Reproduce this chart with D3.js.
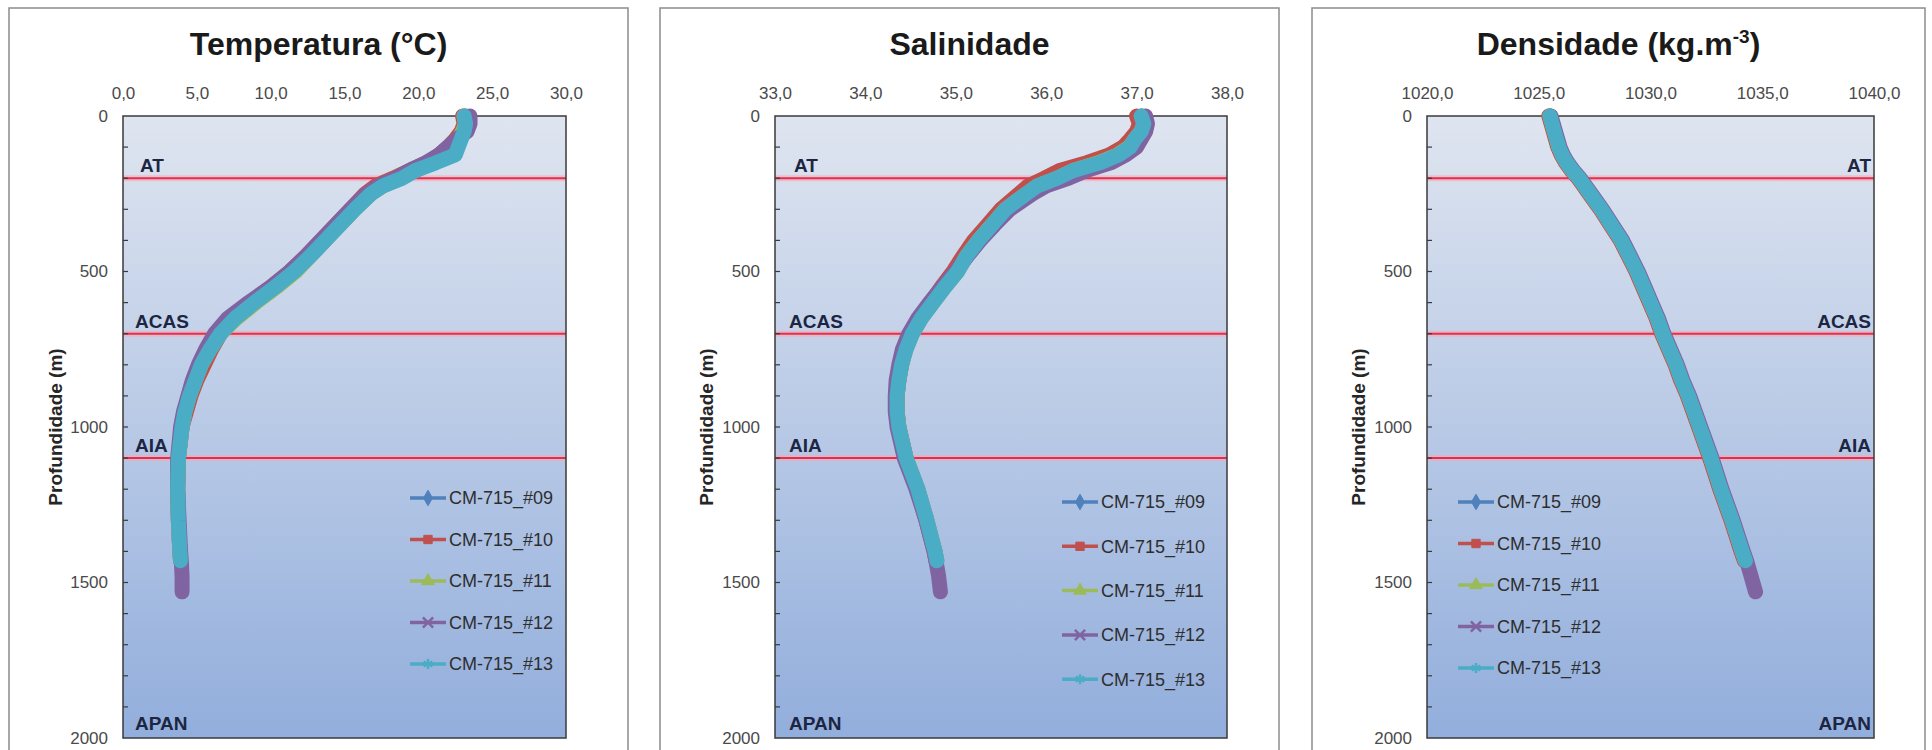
<!DOCTYPE html>
<html>
<head>
<meta charset="utf-8">
<script src="https://cdn.jsdelivr.net/npm/d3@7"></script>
<style>
  body { margin: 0; background: #fff; }
  svg { display: block; font-family: 'Liberation Sans', Arial, sans-serif; }
</style>
</head>
<body>
<div id="chart"></div>
<script>
const WIDTH = 1932;
const HEIGHT = 750;

const PLOT_TOP = 116;
const PLOT_BOTTOM = 738;

// depth levels (m) of every cast
const depths = [0, 25, 50, 75, 100, 125, 150, 175, 200, 225, 250, 300, 350, 400, 450, 500,
  550, 600, 650, 700, 750, 800, 850, 900, 950, 1000, 1100, 1200, 1300, 1400, 1430, 1480, 1530];

const stations = ['CM-715_#09', 'CM-715_#10', 'CM-715_#11', 'CM-715_#12', 'CM-715_#13'];
const stationColors = ['#4f81bd', '#c0504d', '#9bbb59', '#8064a2', '#4bacc6'];

// temperatura (°C)
const temp09 = [23.2, 23.2, 23.0, 22.7, 22.4, 21.9, 20.9, 19.8, 18.8, 17.5, 16.7, 15.6, 14.6, 13.6, 12.6, 11.5,
  10.2, 8.8, 7.5, 6.5, 5.8, 5.2, 4.8, 4.5, 4.2, 4.0, 3.75, 3.7, 3.75, 3.85, 3.9, null, null];
const temp10 = [23.0, 23.1, 22.9, 22.5, 22.0, 21.4, 20.6, 19.4, 18.3, 17.1, 16.4, 15.4, 14.4, 13.4, 12.4, 11.3,
  10.0, 8.6, 7.4, 6.6, 6.0, 5.5, 5.0, 4.6, 4.3, 4.0, 3.75, 3.7, 3.75, 3.85, 3.9, null, null];
const temp11 = [23.1, 23.2, 23.0, 22.7, 22.3, 21.8, 20.9, 19.8, 18.8, 17.6, 16.8, 15.7, 14.7, 13.7, 12.7, 11.7,
  10.4, 9.0, 7.7, 6.6, 5.9, 5.3, 4.9, 4.5, 4.2, 4.0, 3.75, 3.7, 3.75, 3.85, 3.9, null, null];
const temp12 = [23.5, 23.5, 23.3, 22.6, 22.0, 21.4, 20.5, 19.4, 18.5, 17.3, 16.5, 15.4, 14.4, 13.4, 12.4, 11.3,
  10.0, 8.5, 7.1, 6.2, 5.6, 5.1, 4.7, 4.4, 4.1, 3.9, 3.7, 3.7, 3.8, 3.9, 3.95, 4.0, 4.0];
const temp13 = [23.1, 23.2, 23.1, 22.9, 22.7, 22.5, 21.2, 19.8, 18.9, 17.6, 16.8, 15.7, 14.7, 13.7, 12.7, 11.6,
  10.3, 8.9, 7.6, 6.6, 5.9, 5.3, 4.9, 4.5, 4.2, 4.0, 3.75, 3.7, 3.75, 3.85, 3.9, null, null];

// salinidade
const sal09 = [37.05, 37.07, 37.03, 36.97, 36.9, 36.76, 36.55, 36.28, 36.1, 35.88, 35.76, 35.54, 35.39, 35.24, 35.11, 35.0,
  34.87, 34.74, 34.61, 34.51, 34.44, 34.4, 34.37, 34.35, 34.35, 34.37, 34.45, 34.58, 34.68, 34.77, 34.79, null, null];
const sal10 = [37.0, 37.03, 37.0, 36.93, 36.85, 36.7, 36.45, 36.15, 35.98, 35.8, 35.7, 35.5, 35.35, 35.2, 35.08, 34.97,
  34.84, 34.72, 34.6, 34.5, 34.44, 34.4, 34.37, 34.35, 34.35, 34.37, 34.45, 34.57, 34.67, 34.76, 34.78, null, null];
const sal11 = [37.06, 37.08, 37.05, 36.98, 36.92, 36.79, 36.58, 36.3, 36.12, 35.9, 35.78, 35.55, 35.4, 35.25, 35.12, 35.02,
  34.88, 34.75, 34.62, 34.52, 34.45, 34.4, 34.37, 34.35, 34.35, 34.37, 34.45, 34.58, 34.68, 34.77, 34.79, null, null];
const sal12 = [37.1, 37.12, 37.1, 37.05, 37.0, 36.88, 36.72, 36.45, 36.25, 36.0, 35.85, 35.6, 35.43, 35.27, 35.13, 35.0,
  34.85, 34.71, 34.58, 34.48, 34.41, 34.37, 34.34, 34.33, 34.33, 34.35, 34.43, 34.56, 34.67, 34.76, 34.78, 34.81, 34.83];
const sal13 = [37.05, 37.08, 37.05, 36.98, 36.93, 36.8, 36.6, 36.3, 36.12, 35.9, 35.78, 35.55, 35.4, 35.25, 35.12, 35.02,
  34.88, 34.75, 34.62, 34.52, 34.45, 34.4, 34.37, 34.35, 34.35, 34.37, 34.45, 34.58, 34.68, 34.77, 34.79, null, null];

// densidade (kg.m-3)
const dens09 = [1025.5, 1025.6, 1025.7, 1025.8, 1025.9, 1026.05, 1026.25, 1026.5, 1026.8, 1027.05, 1027.3, 1027.8, 1028.25, 1028.7, 1029.05, 1029.4,
  1029.7, 1030.0, 1030.3, 1030.55, 1030.85, 1031.15, 1031.4, 1031.7, 1031.95, 1032.2, 1032.7, 1033.15, 1033.65, 1034.1, 1034.25, null, null];
const dens10 = [1025.45, 1025.55, 1025.65, 1025.75, 1025.85, 1026.0, 1026.2, 1026.45, 1026.75, 1027.0, 1027.25, 1027.75, 1028.2, 1028.65, 1029.0, 1029.35,
  1029.65, 1029.95, 1030.25, 1030.5, 1030.8, 1031.1, 1031.35, 1031.65, 1031.9, 1032.15, 1032.65, 1033.1, 1033.6, 1034.05, 1034.2, null, null];
const dens11 = [1025.5, 1025.6, 1025.7, 1025.8, 1025.9, 1026.05, 1026.25, 1026.5, 1026.8, 1027.05, 1027.3, 1027.8, 1028.25, 1028.7, 1029.05, 1029.4,
  1029.7, 1030.0, 1030.3, 1030.55, 1030.85, 1031.15, 1031.4, 1031.7, 1031.95, 1032.2, 1032.7, 1033.15, 1033.65, 1034.1, 1034.25, null, null];
const dens12 = [1025.55, 1025.65, 1025.75, 1025.85, 1025.95, 1026.1, 1026.3, 1026.55, 1026.85, 1027.1, 1027.35, 1027.85, 1028.3, 1028.75, 1029.1, 1029.45,
  1029.75, 1030.05, 1030.35, 1030.6, 1030.9, 1031.2, 1031.45, 1031.75, 1032.0, 1032.25, 1032.75, 1033.2, 1033.7, 1034.15, 1034.3, 1034.5, 1034.7];
const dens13 = [1025.5, 1025.6, 1025.7, 1025.8, 1025.9, 1026.05, 1026.25, 1026.5, 1026.8, 1027.05, 1027.3, 1027.8, 1028.25, 1028.7, 1029.05, 1029.4,
  1029.7, 1030.0, 1030.3, 1030.55, 1030.85, 1031.15, 1031.4, 1031.7, 1031.95, 1032.2, 1032.7, 1033.15, 1033.65, 1034.1, 1034.25, null, null];

// water masses and the depth of their lower boundary
const waterMasses = ['AT', 'ACAS', 'AIA', 'APAN'];
const waterMassDepths = [200, 700, 1100, 2000];

const depthTicks = [0, 500, 1000, 1500, 2000];
const tempTicks = [0, 5, 10, 15, 20, 25, 30];
const salTicks = [33, 34, 35, 36, 37, 38];
const densTicks = [1020, 1025, 1030, 1035, 1040];

const panels = [
  {
    title: [['Temperatura (°C)', false]], ticks: tempTicks,
    series: [temp09, temp10, temp11, temp12, temp13],
    box: [9, 628], plot: [123, 566], labelSide: 'left', labelInset: 12,
    legendX: 410, legendY: 498, legendStep: 41.5
  },
  {
    title: [['Salinidade', false]], ticks: salTicks,
    series: [sal09, sal10, sal11, sal12, sal13],
    box: [660, 1279], plot: [775, 1227], labelSide: 'left', labelInset: 14,
    legendX: 1062, legendY: 502, legendStep: 44.3
  },
  {
    title: [['Densidade (kg.m', false], ['-3', true], [')', false]], ticks: densTicks,
    series: [dens09, dens10, dens11, dens12, dens13],
    box: [1312, 1925], plot: [1427, 1874], labelSide: 'right', labelInset: 3,
    legendX: 1458, legendY: 502, legendStep: 41.5
  }
];

const markers = [
  d3.symbolDiamond, d3.symbolSquare, d3.symbolTriangle,
  d3.symbolTimes || d3.symbolCross, d3.symbolAsterisk || d3.symbolCross
];

const fmt = v => d3.format('.1f')(v).replace('.', ',');

const svg = d3.select('#chart').append('svg')
  .attr('width', WIDTH)
  .attr('height', HEIGHT);

const grad = svg.append('defs').append('linearGradient')
  .attr('id', 'plotFill')
  .attr('x1', 0).attr('y1', 0).attr('x2', 0).attr('y2', 1);
grad.append('stop').attr('offset', '0%').attr('stop-color', '#dfe5f0');
grad.append('stop').attr('offset', '100%').attr('stop-color', '#92aedc');

const yScale = d3.scaleLinear()
  .domain([0, 2000])
  .range([PLOT_TOP, PLOT_BOTTOM]);

const drawPanel = (p) => {
  const g = svg.append('g');
  const xScale = d3.scaleLinear()
    .domain(d3.extent(p.ticks))
    .range(p.plot);
  const [x0, x1] = p.plot;

  // outer frame of the chart
  g.append('rect')
    .attr('x', p.box[0]).attr('y', 8)
    .attr('width', p.box[1] - p.box[0]).attr('height', 800)
    .attr('fill', '#fff')
    .attr('stroke', '#8c8c8c')
    .attr('stroke-width', 1.5);

  // title
  const title = g.append('text')
    .attr('x', (p.box[0] + p.box[1]) / 2)
    .attr('y', 55)
    .attr('text-anchor', 'middle')
    .attr('font-size', 32)
    .attr('font-weight', 'bold')
    .attr('fill', '#1a1a1a');
  p.title.forEach(([t, sup]) => {
    const s = title.append('tspan').text(t);
    if (sup) s.attr('font-size', 19).attr('dy', -12);
    else if (t === ')') s.attr('dy', 12);
  });

  // plot area
  g.append('rect')
    .attr('x', x0).attr('y', PLOT_TOP)
    .attr('width', x1 - x0).attr('height', PLOT_BOTTOM - PLOT_TOP)
    .attr('fill', 'url(#plotFill)');

  // water mass boundaries
  const bounds = waterMassDepths.filter(d => d < 2000);
  g.selectAll('line.glow')
    .data(bounds)
    .enter()
    .append('line')
    .attr('x1', x0).attr('x2', x1)
    .attr('y1', d => yScale(d)).attr('y2', d => yScale(d))
    .attr('stroke', '#f6a6b6')
    .attr('stroke-opacity', 0.6)
    .attr('stroke-width', 6);
  g.selectAll('line.bound')
    .data(bounds)
    .enter()
    .append('line')
    .attr('x1', x0).attr('x2', x1)
    .attr('y1', d => yScale(d)).attr('y2', d => yScale(d))
    .attr('stroke', '#e2304c')
    .attr('stroke-width', 2);

  // frame and minor ticks
  g.append('rect')
    .attr('x', x0).attr('y', PLOT_TOP)
    .attr('width', x1 - x0).attr('height', PLOT_BOTTOM - PLOT_TOP)
    .attr('fill', 'none')
    .attr('stroke', '#3a3a3a')
    .attr('stroke-width', 1.5);
  g.selectAll('line.minor')
    .data(d3.range(100, 2000, 100))
    .enter()
    .append('line')
    .attr('x1', x0).attr('x2', x0 + 5)
    .attr('y1', d => yScale(d)).attr('y2', d => yScale(d))
    .attr('stroke', '#3a3a3a')
    .attr('stroke-width', 1.2);

  // axes
  const xAxis = g.append('g')
    .attr('transform', `translate(0,${PLOT_TOP})`)
    .call(d3.axisTop(xScale).tickValues(p.ticks).tickSize(0).tickPadding(17).tickFormat(fmt));
  const yAxis = g.append('g')
    .attr('transform', `translate(${x0},0)`)
    .call(d3.axisLeft(yScale).tickValues(depthTicks).tickSize(0).tickPadding(15).tickFormat(d3.format('d')));
  [xAxis, yAxis].forEach(a => {
    a.select('.domain').remove();
    a.selectAll('text')
      .attr('font-size', 17)
      .attr('font-family', "'Liberation Sans', Arial, sans-serif")
      .attr('fill', '#4a4a4a');
  });

  g.append('text')
    .attr('transform', `translate(${p.box[0] + 53},${(PLOT_TOP + PLOT_BOTTOM) / 2}) rotate(-90)`)
    .attr('text-anchor', 'middle')
    .attr('font-size', 19)
    .attr('font-weight', 'bold')
    .attr('fill', '#262626')
    .text('Profundidade (m)');

  // casts
  p.series.forEach((vals, i) => {
    const line = d3.line()
      .defined((d, k) => vals[k] != null)
      .x((d, k) => xScale(vals[k]))
      .y(d => yScale(d));
    g.append('path')
      .datum(depths)
      .attr('d', line)
      .attr('fill', 'none')
      .attr('stroke', stationColors[i])
      .attr('stroke-width', 15)
      .attr('stroke-linejoin', 'round')
      .attr('stroke-linecap', 'round');
  });

  // water mass names
  g.selectAll('text.mass')
    .data(waterMasses)
    .enter()
    .append('text')
    .attr('x', (d, i) => p.labelSide === 'left' ? x0 + p.labelInset + (i === 0 ? 5 : 0) : x1 - p.labelInset)
    .attr('y', (d, i) => yScale(waterMassDepths[i]) - (waterMassDepths[i] < 2000 ? 6 : 8))
    .attr('text-anchor', p.labelSide === 'left' ? 'start' : 'end')
    .attr('font-size', 19)
    .attr('font-weight', 'bold')
    .attr('fill', '#1c2642')
    .text(d => d);

  // legend
  const legend = g.selectAll('g.legend')
    .data(stations)
    .enter()
    .append('g')
    .attr('transform', (d, i) => `translate(${p.legendX},${p.legendY + i * p.legendStep})`);
  legend.append('line')
    .attr('x1', 0).attr('x2', 36)
    .attr('stroke', (d, i) => stationColors[i])
    .attr('stroke-width', 3.5);
  legend.append('path')
    .attr('transform', 'translate(18,0)')
    .attr('d', (d, i) => d3.symbol(markers[i], 70)())
    .attr('fill', (d, i) => i >= 3 ? 'none' : stationColors[i])
    .attr('stroke', (d, i) => stationColors[i])
    .attr('stroke-width', (d, i) => i >= 3 ? 2.5 : 1);
  legend.append('text')
    .attr('x', 39)
    .attr('dy', '0.35em')
    .attr('font-size', 18)
    .attr('fill', '#2e2e2e')
    .text(d => d);
};

panels.forEach(drawPanel);
</script>
</body>
</html>
